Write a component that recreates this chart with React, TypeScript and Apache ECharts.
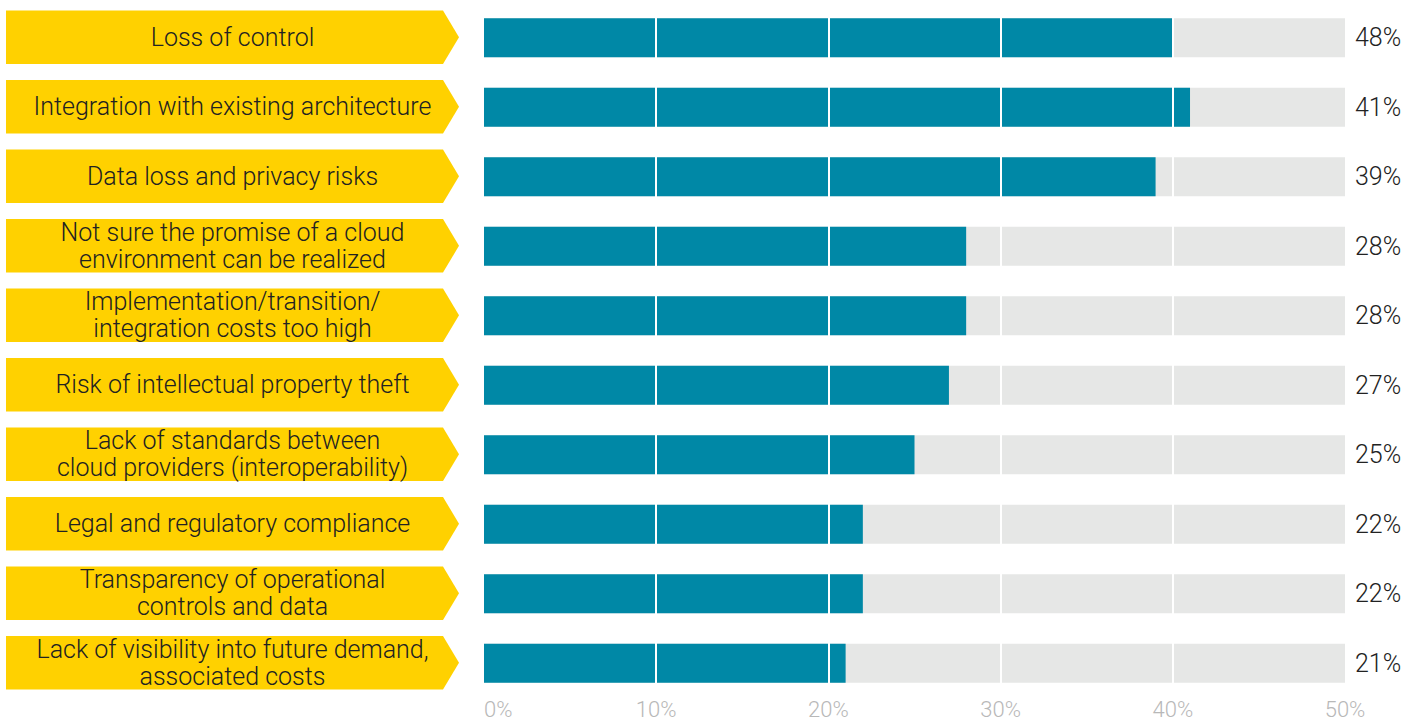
import React, { useEffect, useRef } from "react";
import * as echarts from "echarts";

const categories: string[] = [
  "Loss of control",
  "Integration with existing architecture",
  "Data loss and privacy risks",
  "Not sure the promise of a cloud\nenvironment can be realized",
  "Implementation/transition/\nintegration costs too high",
  "Risk of intellectual property theft",
  "Lack of standards between\ncloud providers (interoperability)",
  "Legal and regulatory compliance",
  "Transparency of operational\ncontrols and data",
  "Lack of visibility into future demand,\nassociated costs",
];

// bar lengths as drawn (percent)
const barValues: number[] = [40, 41, 39, 28, 28, 27, 25, 22, 22, 21];
// value labels as printed
const valueLabels: string[] = ["48%", "41%", "39%", "28%", "28%", "27%", "25%", "22%", "22%", "21%"];
const xTicks: number[] = [0, 10, 20, 30, 40, 50];
const gridLines: number[] = [10, 20, 30, 40];

const TEAL = "#0088a6";
const GREY = "#e6e7e6";
const YELLOW = "#ffd100";
const TEXT = "#222222";
const FONT = "Roboto, 'Noto Sans', sans-serif";

export default function App() {
  const ref = useRef<HTMLDivElement>(null);
  useEffect(() => {
    if (!ref.current) return;
    const chart = echarts.init(ref.current, null, { renderer: "svg" });
    chart.setOption({
      animation: false,
      backgroundColor: "#ffffff",
      grid: { left: 484, right: 77, top: 3, bottom: 22, containLabel: false },
      xAxis: {
        type: "value",
        min: xTicks[0],
        max: xTicks[xTicks.length - 1],
        interval: 10,
        axisLine: { show: false },
        axisTick: { show: false },
        splitLine: { show: false },
        axisLabel: {
          formatter: (v: number) => `${v}%`,
          color: "#b8b8b8",
          fontFamily: FONT,
          fontWeight: 300,
          fontSize: 22,
          margin: 0,
          alignMinLabel: "left",
        },
      },
      yAxis: [
        {
          type: "category",
          data: categories,
          inverse: true,
          axisLine: { show: false },
          axisTick: { show: false },
          axisLabel: { show: false },
        },
        {
          type: "category",
          data: valueLabels,
          inverse: true,
          position: "right",
          axisLine: { show: false },
          axisTick: { show: false },
          axisLabel: {
            color: TEXT,
            fontFamily: FONT,
            fontWeight: 300,
            fontSize: 25,
            margin: 10,
          },
        },
      ],
      series: [
        {
          type: "bar",
          data: barValues,
          barWidth: 39,
          itemStyle: { color: TEAL },
          showBackground: true,
          backgroundStyle: { color: GREY },
          markLine: {
            silent: true,
            symbol: "none",
            label: { show: false },
            lineStyle: { color: "#ffffff", width: 2, type: "solid" },
            data: gridLines.map((v) => ({ xAxis: v })),
          },
          z: 2,
        },
        {
          type: "custom",
          clip: false,
          data: categories.map((c, i) => [0, i]),
          renderItem: (params: any, api: any) => {
            const idx = api.value(1);
            const pt = api.coord([0, idx]);
            const y = pt[1] - 0.5;
            const right = pt[0] - 25;
            const left = 6;
            const h = 26.8;
            const tip = 16;
            return {
              type: "group",
              children: [
                {
                  type: "polygon",
                  shape: {
                    points: [
                      [left, y - h],
                      [right - tip, y - h],
                      [right, y],
                      [right - tip, y + h],
                      [left, y + h],
                    ],
                  },
                  style: { fill: YELLOW },
                },
                {
                  type: "text",
                  x: (left + right) / 2,
                  y: y,
                  style: {
                    text: categories[idx],
                    fill: TEXT,
                    font: `300 25px ${FONT}`,
                    align: "center",
                    verticalAlign: "middle",
                    lineHeight: 27,
                  },
                },
              ],
            };
          },
          z: 3,
        },
      ],
    });
    return () => chart.dispose();
  }, []);
  return (
    <div
      ref={ref}
      style={{ position: "absolute", left: 0, top: 0, width: 1422, height: 720 }}
    />
  );
}
